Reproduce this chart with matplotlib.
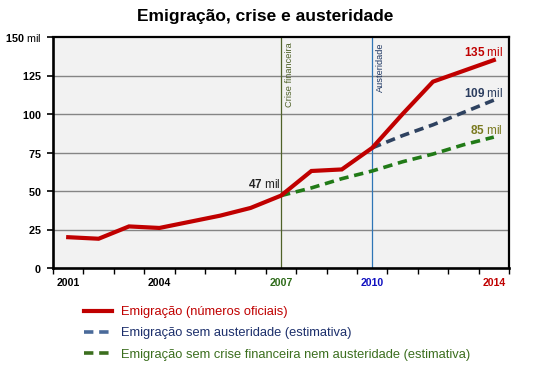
import matplotlib
matplotlib.use("Agg")
import matplotlib.pyplot as plt
import numpy as np

plt.rcParams['font.family'] = ['Liberation Sans', 'DejaVu Sans']
plt.rcParams['mathtext.fontset'] = 'custom'
plt.rcParams['mathtext.rm'] = 'Liberation Sans'
plt.rcParams['mathtext.bf'] = 'Liberation Sans:bold'

# ---- data ----
official_x = list(range(15))
official = [20, 19, 27, 26, 30, 34, 39, 47, 63, 64, 78, 100, 121, 128, 135]
no_austerity_x = [10, 11, 12, 13, 14]
no_austerity = [78, 86, 93, 101, 109]
no_crisis_x = [7, 8, 9, 10, 11, 12, 13, 14]
no_crisis = [47, 52, 58, 63, 69, 74, 80, 85]
xlabel_pos = [0, 3, 7, 10, 14]
xlabel_txt = ['2001', '2004', '2007', '2010', '2014']
xlabel_col = ['black', 'black', '#2E6B1A', '#1010C0', '#C00000']
yticks = [0, 25, 50, 75, 100, 125, 150]
ytick_txt = [r'$\mathbf{0}$', r'$\mathbf{25}$', r'$\mathbf{50}$', r'$\mathbf{75}$',
             r'$\mathbf{100}$', r'$\mathbf{125}$', r'$\mathbf{150}$ mil']
crisis_x = 7
austerity_x = 10

RED = '#C00000'
NAVY = '#2E4260'
GREEN = '#217A17'

W, H = 558, 373
fig = plt.figure(figsize=(W / 100, H / 100), dpi=100)
fig.patch.set_facecolor('white')
ax = fig.add_axes([53 / W, 1 - 268 / H, 456 / W, 231 / H])
ax.set_facecolor('#F2F2F2')
ax.set_xlim(-0.5, 14.5)
ax.set_ylim(0, 150)

for v in [25, 50, 75, 100, 125]:
    ax.axhline(v, color='#858585', lw=1.0, zorder=1)

ax.axvline(crisis_x, color='#4F6228', lw=0.9, zorder=2)
ax.axvline(austerity_x, color='#2E75B6', lw=0.9, zorder=2)
ax.text(crisis_x + 0.28, 146.5, 'Crise financeira', rotation=90, ha='center', va='top',
        fontsize=6.7, color='#4F6228')
ax.text(austerity_x + 0.28, 146.5, 'Austeridade', rotation=90, ha='center', va='top',
        fontsize=6.7, color='#1F3864')

l_crisis, = ax.plot(no_crisis_x, no_crisis, color=GREEN, lw=2.6, dashes=(2.6, 1.6), zorder=3,
                    label='Emigração sem crise financeira nem austeridade (estimativa)')
l_aust, = ax.plot(no_austerity_x, no_austerity, color=NAVY, lw=2.6, dashes=(2.6, 1.6), zorder=3,
                  label='Emigração sem austeridade (estimativa)')
l_off, = ax.plot(official_x, official, color=RED, lw=3.0, zorder=4,
                 solid_joinstyle='miter', label='Emigração (números oficiais)')

# end labels
def endlabel(x, y, num, color, dx, dy):
    ax.annotate(r'$\mathbf{%s}$ mil' % num, (x, y), xytext=(dx, dy), textcoords='offset pixels',
                ha='right', va='center', fontsize=8.5, color=color)

endlabel(14, official[-1], '135', RED, 9, 8)
endlabel(14, no_austerity[-1], '109', '#2A3C5E', 9, 7)
endlabel(14, no_crisis[-1], '85', '#7A7A20', 9, 7)
ax.annotate(r'$\mathbf{47}$ mil', (7, 47), xytext=(0, 11), textcoords='offset pixels',
            ha='right', va='center', fontsize=8.5, color='#222222')

# axes styling
for s in ax.spines.values():
    s.set_color('black')
    s.set_linewidth(1.6)
ax.spines['left'].set_linewidth(1.9)
ax.spines['bottom'].set_linewidth(1.9)

ax.set_yticks(yticks)
ax.set_yticklabels(ytick_txt, fontsize=7.8)
ax.tick_params(axis='y', direction='out', length=4, width=1.2, pad=4)

ax.set_xticks(xlabel_pos)
ax.set_xticklabels(xlabel_txt, fontsize=7.6, fontweight='bold')
for t, c in zip(ax.get_xticklabels(), xlabel_col):
    t.set_color(c)
ax.tick_params(axis='x', which='major', length=0, pad=7.5)
ax.set_xticks(np.arange(-0.5, 15, 1), minor=True)
ax.tick_params(axis='x', which='minor', direction='out', length=4, width=1.0)

fig.text(265 / W, 1 - 16 / H, 'Emigração, crise e austeridade', ha='center', va='center',
         fontsize=12.5, fontweight='bold')

leg = fig.legend(handles=[l_off, l_aust, l_crisis], loc='upper left',
                 bbox_to_anchor=(84 / W, 1 - 306 / H), frameon=False, fontsize=9.3,
                 handlelength=2.2, handletextpad=0.7, labelspacing=0.72,
                 borderpad=0, borderaxespad=0,
                 labelcolor=[RED, '#1C2F6B', '#3B6E1E'])
leg.legend_handles[1].set_color('#4A6A9A')
leg.legend_handles[2].set_color('#3B6E1E')

fig.savefig('out.png', dpi=100)
